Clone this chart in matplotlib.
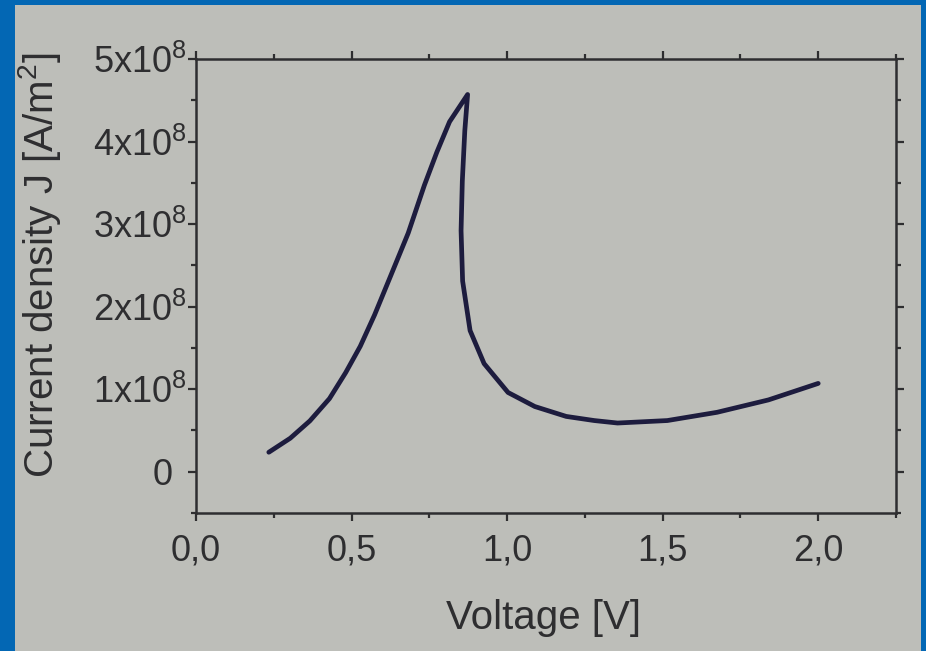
import matplotlib
matplotlib.use("Agg")
import matplotlib.pyplot as plt
from matplotlib.patches import Rectangle
from matplotlib.ticker import FixedLocator, MultipleLocator
from matplotlib.transforms import ScaledTranslation

# Data
voltage = [0.234, 0.303, 0.366, 0.429, 0.481, 0.528, 0.574, 0.621, 0.682, 0.734,
           0.774, 0.815, 0.873,
           0.864, 0.856, 0.852, 0.857, 0.881, 0.926, 1.003, 1.089, 1.19, 1.28,
           1.355, 1.515, 1.675, 1.84, 2.0]
current_e8 = [0.236, 0.406, 0.616, 0.886, 1.20, 1.52, 1.90, 2.33, 2.89, 3.47,
              3.87, 4.24, 4.57,
              4.13, 3.52, 2.92, 2.31, 1.71, 1.31, 0.96, 0.79, 0.67, 0.62,
              0.59, 0.62, 0.72, 0.87, 1.07]
x_ticks = [0.0, 0.5, 1.0, 1.5, 2.0]
x_tick_labels = ["0,0", "0,5", "1,0", "1,5", "2,0"]
y_ticks = [0, 1e8, 2e8, 3e8, 4e8, 5e8]
y_tick_labels = ["0", r"1x10$^{8}$", r"2x10$^{8}$",
                 r"3x10$^{8}$", r"4x10$^{8}$", r"5x10$^{8}$"]

plt.rcParams['font.family'] = ['Liberation Sans', 'DejaVu Sans']
plt.rcParams['mathtext.fontset'] = 'custom'
plt.rcParams['mathtext.rm'] = 'Liberation Sans'
plt.rcParams['mathtext.it'] = 'Liberation Sans'
plt.rcParams['mathtext.default'] = 'regular'

blue = '#0367b4'
paper = '#bdbeb9'
ink = '#2e2e30'

fig = plt.figure(figsize=(9.26, 6.51), dpi=100, facecolor=blue)
fig.add_artist(Rectangle((15/926, 0), (921-15)/926, (651-5)/651,
                         transform=fig.transFigure, facecolor=paper,
                         edgecolor='none', zorder=-10))

ax = fig.add_axes([196/926, 1-513/651, 700/926, 454/651])
ax.set_zorder(5)
ax.set_facecolor('none')

J = [v * 1e8 for v in current_e8]
ax.plot(voltage, J, color='#1d1c3e', lw=3.4, solid_capstyle='round',
        solid_joinstyle='round')

ax.set_xlim(0, 2.25)
ax.set_ylim(-0.5e8, 5e8)
ax.xaxis.set_major_locator(FixedLocator(x_ticks))
ax.set_xticklabels(x_tick_labels)
ax.xaxis.set_minor_locator(MultipleLocator(0.25))
ax.yaxis.set_major_locator(FixedLocator(y_ticks))
ax.set_yticklabels(y_tick_labels)
ax.yaxis.set_minor_locator(MultipleLocator(0.5e8))

for s in ax.spines.values():
    s.set_color(ink)
    s.set_linewidth(1.8)

ax.tick_params(which='both', direction='out', top=True, right=True,
               color=ink, width=1.6, labelcolor=ink)
ax.tick_params(which='major', length=6, labelsize=26, pad=1)
ax.tick_params(which='minor', length=3.5)
ax.tick_params(axis='x', which='major', pad=9)

# the "0" label lines up with the "10" of the others (superscript overhangs)
zero_lbl = ax.get_yticklabels()[0]
zero_lbl.set_transform(zero_lbl.get_transform() +
                       ScaledTranslation(-0.14, 0, fig.dpi_scale_trans))

ax.set_xlabel('Voltage [V]', fontsize=29, color=ink)
ax.xaxis.set_label_coords(0.497, -0.19)
ax.set_ylabel('Current density J [A/m$^{2}$]', fontsize=29, color=ink)
ax.yaxis.set_label_coords(-0.19, 0.545)

fig.savefig('out.png', dpi=100, facecolor=fig.get_facecolor())
